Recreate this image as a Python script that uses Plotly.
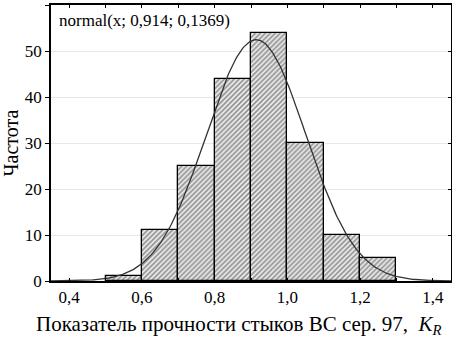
import numpy as np
import plotly.graph_objects as go

# Data
bin_left = [0.5, 0.6, 0.7, 0.8, 0.9, 1.0, 1.1, 1.2]
counts = [1, 11, 25, 44, 54, 30, 10, 5]
bin_width = 0.1
fit_mean = 0.914
fit_sd = 0.1369
x_ticks = [0.4, 0.6, 0.8, 1.0, 1.2, 1.4]
x_tick_text = ["0,4", "0,6", "0,8", "1,0", "1,2", "1,4"]
y_ticks = [0, 10, 20, 30, 40, 50, 60]

centers = [b + bin_width / 2 for b in bin_left]
n_total = sum(counts)
xc = np.linspace(0.35, 1.45, 300)
yc = n_total * bin_width * np.exp(-0.5 * ((xc - fit_mean) / fit_sd) ** 2) / (fit_sd * np.sqrt(2 * np.pi))

FONT = "Liberation Serif"

fig = go.Figure()
fig.add_trace(go.Bar(
    x=centers, y=counts, width=bin_width,
    marker=dict(color="white",
                line=dict(color="black", width=1.3),
                pattern=dict(shape="/", fgcolor="#333333", bgcolor="#f0f0f0", size=3.5, solidity=0.5)),
    showlegend=False,
))
fig.add_trace(go.Scatter(x=xc, y=yc, mode="lines", line=dict(color="#333333", width=1.3), showlegend=False))
fig.add_trace(go.Scatter(x=[0.35], y=[0], yaxis="y2", mode="markers", marker=dict(opacity=0),
                         showlegend=False, hoverinfo="skip"))

fig.update_layout(
    width=452, height=337,
    margin=dict(l=51, r=1, t=5, b=56, autoexpand=False),
    paper_bgcolor="white", plot_bgcolor="white",
    separators=", ",
    font=dict(family=FONT, size=17, color="black"),
    bargap=0,
    xaxis=dict(range=[0.35, 1.45], tickvals=x_ticks, ticktext=x_tick_text, automargin=False,
               ticks="inside", ticklen=3, tickcolor="black", mirror="allticks",
               minor=dict(dtick=0.1, tick0=0.4, ticks="inside", ticklen=3, tickcolor="black"),
               showline=True, linecolor="black", linewidth=1.5, showgrid=False, zeroline=False,
               tickfont=dict(size=17)),
    yaxis=dict(range=[0, 60], tickvals=y_ticks, ticks="outside", ticklen=4, tickcolor="black",
               automargin=False,
               showline=True, linecolor="black", linewidth=1.5, mirror=True,
               showgrid=True, gridcolor="#e8e8e8", gridwidth=1, zeroline=False,
               title=dict(text="Частота", font=dict(size=20), standoff=4),
               tickfont=dict(size=17)),
    yaxis2=dict(range=[0, 60], overlaying="y", side="right", tickvals=y_ticks, ticks="inside",
                automargin=False,
                ticklen=3, tickcolor="black", showticklabels=False, showgrid=False, zeroline=False,
                showline=False),
    annotations=[
        dict(text="normal(x; 0,914; 0,1369)", xref="paper", yref="paper", x=0.015, y=0.985,
             xanchor="left", yanchor="top", showarrow=False, font=dict(size=17, family=FONT)),
        dict(text="Показатель прочности стыков ВС сер. 97,  <i>K<sub>R</sub></i>",
             xref="paper", yref="paper", x=0.471, y=-0.159, xanchor="center", yanchor="middle",
             showarrow=False, font=dict(size=21, family=FONT)),
    ],
)

fig.write_html("out.html", config={"displayModeBar": False},
               post_script="document.body.style.margin='0';document.body.style.overflow='hidden';")
